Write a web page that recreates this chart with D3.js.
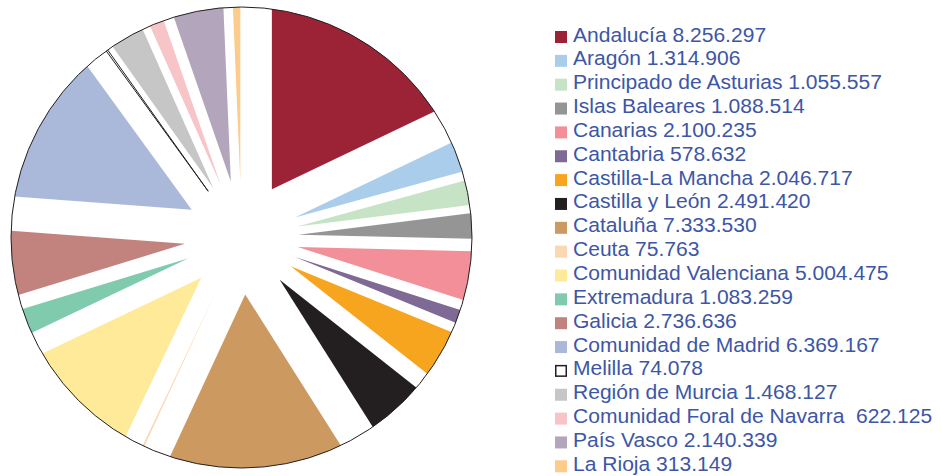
<!DOCTYPE html>
<html>
<head>
<meta charset="utf-8">
<script src="https://cdn.jsdelivr.net/npm/d3@7"></script>
<style>
  body { margin: 0; background: #fff; }
  svg text { font-family: "Liberation Sans", Arial, sans-serif; }
</style>
</head>
<body>
<svg id="chart" width="941" height="476"></svg>
<script>
const regions = ["Andalucía", "Aragón", "Principado de Asturias", "Islas Baleares", "Canarias",
  "Cantabria", "Castilla-La Mancha", "Castilla y León", "Cataluña", "Ceuta",
  "Comunidad Valenciana", "Extremadura", "Galicia", "Comunidad de Madrid", "Melilla",
  "Región de Murcia", "Comunidad Foral de Navarra", "País Vasco", "La Rioja"];
const population = [8256297, 1314906, 1055557, 1088514, 2100235,
  578632, 2046717, 2491420, 7333530, 75763,
  5004475, 1083259, 2736636, 6369167, 74078,
  1468127, 622125, 2140339, 313149];
const labels = ["Andalucía 8.256.297", "Aragón 1.314.906", "Principado de Asturias 1.055.557",
  "Islas Baleares 1.088.514", "Canarias 2.100.235", "Cantabria 578.632",
  "Castilla-La Mancha 2.046.717", "Castilla y León 2.491.420", "Cataluña 7.333.530",
  "Ceuta 75.763", "Comunidad Valenciana 5.004.475", "Extremadura 1.083.259",
  "Galicia 2.736.636", "Comunidad de Madrid 6.369.167", "Melilla 74.078",
  "Región de Murcia 1.468.127", "Comunidad Foral de Navarra  622.125",
  "País Vasco 2.140.339", "La Rioja 313.149"];
const colors = ["#9c2236", "#abcdec", "#c6e3c6", "#959595", "#f28f98",
  "#7e6a94", "#f7a41f", "#231f20", "#cc9a61", "#fbd7b2",
  "#feea98", "#80cbae", "#c2837e", "#aab9da", "#ffffff",
  "#c6c6c6", "#f7c4c8", "#b3a6bc", "#fdcb8a"];

let svg = d3.select("#chart");
let cx = 241.5, cy = 237.5, radius = 230.5, explode = 57;

svg.append("defs").append("clipPath").attr("id", "pieClip")
  .append("circle").attr("cx", cx).attr("cy", cy).attr("r", radius);

let pie = d3.pie().sort(null).value(d => d);
let arc = d3.arc().innerRadius(0).outerRadius(radius + explode + 10);

let g = svg.append("g").attr("clip-path", "url(#pieClip)")
  .append("g").attr("transform", "translate(" + cx + "," + cy + ")");

// every slice pulled out along its bisector, then cut back to the circle
g.selectAll("path")
  .data(pie(population))
  .enter()
  .append("path")
  .attr("d", arc)
  .attr("transform", d => {
    let mid = (d.startAngle + d.endAngle) / 2;
    return "translate(" + (explode * Math.sin(mid)) + "," + (-explode * Math.cos(mid)) + ")";
  })
  .attr("fill", (d, i) => colors[i])
  .attr("stroke", (d, i) => regions[i] == "Melilla" ? "#231f20" : "none")
  .attr("stroke-width", 1);

// outline of the whole pie
svg.append("circle")
  .attr("cx", cx).attr("cy", cy).attr("r", radius)
  .attr("fill", "none")
  .attr("stroke", "#231f20")
  .attr("stroke-width", 1);

// legend
let legend = svg.append("g").attr("transform", "translate(555,31)");
let rows = legend.selectAll("g.row")
  .data(labels)
  .enter()
  .append("g")
  .attr("class", "row")
  .attr("transform", (d, i) => "translate(0," + (i * 23.85) + ")");

rows.append("rect")
  .attr("x", (d, i) => regions[i] == "Melilla" ? 0.75 : 0)
  .attr("y", (d, i) => regions[i] == "Melilla" ? 0.75 : 0)
  .attr("width", (d, i) => regions[i] == "Melilla" ? 10.5 : 12)
  .attr("height", (d, i) => regions[i] == "Melilla" ? 10.5 : 12)
  .attr("fill", (d, i) => colors[i])
  .attr("stroke", (d, i) => regions[i] == "Melilla" ? "#231f20" : "none")
  .attr("stroke-width", 1.5);

rows.append("text")
  .attr("transform", "translate(18,10.5) scale(1.08,1)")
  .attr("fill", "#3d56a5")
  .style("font-size", "19.5px")
  .style("white-space", "pre")
  .text(d => d);
</script>
</body>
</html>
